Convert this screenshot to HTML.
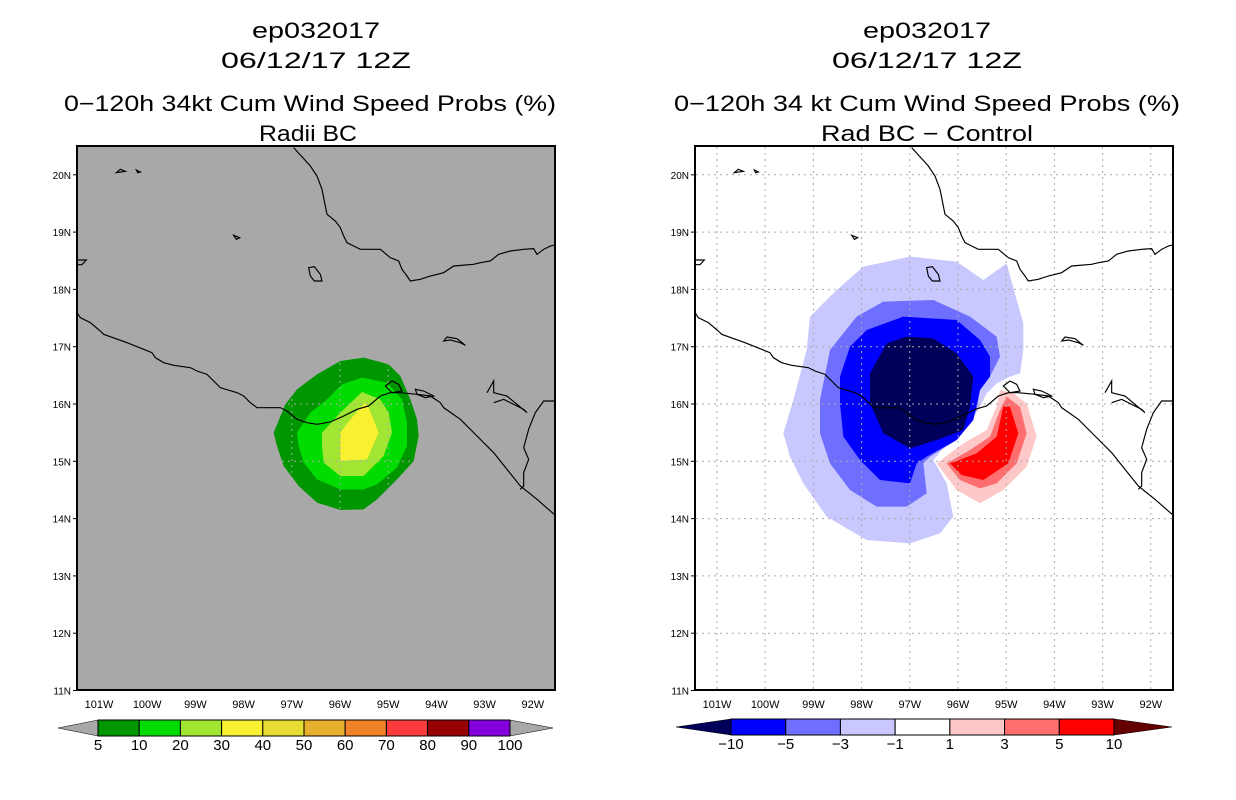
<!DOCTYPE html>
<html><head><meta charset="utf-8"><style>
html,body{margin:0;padding:0;background:#fff;}
svg{display:block;}
text{font-family:"Liberation Sans",sans-serif;fill:#000;}
</style></head><body>
<svg id="fig" width="1236" height="800" viewBox="0 0 1236 800">
<defs>
  <g id="geo">
    <polyline fill="none" stroke="#000" stroke-width="3.5" points="0,500 10,515 40,530 70,555 80,565 150,590 200,610 225,620 235,635 260,650 290,658 340,665 360,675 390,685 410,705 430,725 480,740 500,750 520,770 540,785 610,785 630,795 660,820 690,830 720,835 760,828 800,810 840,790 875,780 910,750 940,740 970,740 1020,745 1060,750 1090,770 1100,785 1150,820 1200,870 1250,920 1290,970 1330,1020 1380,1060 1437,1110"/>
    <polyline fill="none" stroke="#000" stroke-width="3.5" points="650,5 700,60 720,90 735,130 745,180 750,205 775,225 790,245 800,270 810,290 830,300 850,310 910,310 940,335 965,345 975,370 990,390 1000,405 1030,400 1060,390 1100,380 1130,360 1190,355 1210,350 1240,345 1265,325 1300,315 1340,310 1370,308 1380,325 1400,310 1420,300 1437,296"/>
    <polyline fill="none" stroke="#000" stroke-width="3.5" points="1437,765 1400,765 1375,800 1355,850 1340,905 1355,940 1340,980 1340,1020 1330,1030"/>
    <polyline fill="none" stroke="#000" stroke-width="3.5" points="1230,740 1250,705 1250,740 1290,750 1350,800 1340,790 1280,760 1250,770"/>
    <polygon fill="none" stroke="#000" stroke-width="3.5" points="695,365 712,362 730,385 735,405 712,405 700,390"/>
    <polygon fill="none" stroke="#000" stroke-width="3.5" points="1100,585 1110,573 1140,578 1165,598 1150,590 1120,582"/>
    <polygon fill="none" stroke="#000" stroke-width="3.5" points="118,80 130,70 145,76"/>
    <polygon fill="none" stroke="#000" stroke-width="3.5" points="178,72 190,78 182,80"/>
    <polygon fill="none" stroke="#000" stroke-width="3.5" points="470,268 488,275 478,280"/>
    <polyline fill="none" stroke="#000" stroke-width="3.5" points="0,342 28,342 15,356 0,356"/>
    <polygon fill="none" stroke="#000" stroke-width="3.5" points="925,720 945,705 965,715 975,735 945,740"/>
    <polygon fill="none" stroke="#000" stroke-width="3.5" points="1015,730 1040,735 1070,750 1045,755 1020,745"/>
  </g>
</defs>

<g>
  <text x="316" y="38" font-size="22" text-anchor="middle" textLength="128" lengthAdjust="spacingAndGlyphs">ep032017</text>
  <text x="316" y="68" font-size="22" text-anchor="middle" textLength="190" lengthAdjust="spacingAndGlyphs">06/12/17 12Z</text>
  <text x="310" y="111" font-size="22" text-anchor="middle" textLength="492" lengthAdjust="spacingAndGlyphs">0−120h 34kt Cum Wind Speed Probs (%)</text>
  <text x="308" y="141" font-size="22" text-anchor="middle" textLength="98" lengthAdjust="spacingAndGlyphs">Radii BC</text>
</g>
<g>
  <text x="927" y="38" font-size="22" text-anchor="middle" textLength="128" lengthAdjust="spacingAndGlyphs">ep032017</text>
  <text x="927" y="68" font-size="22" text-anchor="middle" textLength="190" lengthAdjust="spacingAndGlyphs">06/12/17 12Z</text>
  <text x="927" y="111" font-size="22" text-anchor="middle" textLength="506" lengthAdjust="spacingAndGlyphs">0−120h 34 kt Cum Wind Speed Probs (%)</text>
  <text x="927" y="141" font-size="22" text-anchor="middle" textLength="212" lengthAdjust="spacingAndGlyphs">Rad BC − Control</text>
</g>

<g>
  <rect x="77" y="146" width="478" height="544" fill="#a8a8a8"/>
  <g transform="translate(77,146) scale(0.33333)">
    <polygon fill="#009600" points="590,860 625,775 660,730 720,685 790,645 860,635 935,655 970,690 1000,760 1020,820 1025,870 1010,945 960,1000 900,1060 860,1090 790,1092 720,1070 665,1020 620,960 600,900"/>
    <polygon fill="#00dc00" points="660,860 700,800 750,760 795,715 855,695 930,710 975,760 990,830 990,900 960,965 900,1015 860,1030 790,1030 720,1000 680,950 665,900"/>
    <polygon fill="#a0e632" points="735,860 790,800 855,738 910,760 935,800 945,860 920,930 860,990 790,990 740,950 735,900"/>
    <polygon fill="#faf032" points="790,860 820,820 865,770 875,785 905,860 870,940 790,945"/>
  </g>
  <g id="leftgrid"></g>
  <g transform="translate(77,146) scale(0.33333)"><use href="#geo"/></g>
  <rect x="77" y="146" width="478" height="544" fill="none" stroke="#000" stroke-width="2"/>
  <g id="leftaxes"></g>
</g>

<g>
  <rect x="695" y="146" width="478" height="544" fill="#fff"/>
  <g transform="translate(770,250) scale(0.33333)">
    <polygon fill="#c8c8ff" points="40,550 70,450 110,300 120,200 200,120 280,50 420,20 560,35 640,90 710,40 740,150 760,220 760,300 750,370 720,380 680,400 650,430 630,470 600,520 550,560 490,630 530,700 550,800 510,850 420,880 290,870 170,800 100,700 60,620"/>
    <polygon fill="#6e6eff" points="150,450 180,300 260,200 340,155 490,150 600,200 680,260 690,320 660,380 630,420 620,480 600,520 560,570 480,620 460,640 470,730 410,770 320,770 240,720 180,640 150,550"/>
    <polygon fill="#0000ff" points="210,380 240,290 290,240 400,200 560,210 630,270 660,320 660,380 630,420 610,510 560,570 470,620 440,640 420,700 330,690 270,630 220,560 210,460"/>
    <polygon fill="#00005a" points="300,370 350,280 410,260 490,265 560,310 610,380 600,470 580,540 500,570 420,595 340,550 300,460"/>
    <polygon fill="#ffc8c8" points="500,640 580,580 650,540 680,470 690,420 730,430 770,460 800,560 770,650 700,720 630,760 560,720"/>
    <polygon fill="#ff6e6e" points="530,640 600,600 660,560 690,480 710,440 750,470 770,550 740,640 680,700 630,715 570,690"/>
    <polygon fill="#ff0000" points="540,640 620,610 680,560 700,470 720,470 745,550 715,640 640,690 575,675"/>
  </g>
  <g id="rightgrid"></g>
  <g transform="translate(695,146) scale(0.33333)"><use href="#geo"/></g>
  <rect x="695" y="146" width="478" height="544" fill="none" stroke="#000" stroke-width="2"/>
  <g id="rightaxes"></g>
</g>

<g id="leftbar"></g>
<g id="rightbar"></g>

<script>
const lonTicks = [-101,-100,-99,-98,-97,-96,-95,-94,-93,-92];
const lonLabels = ["101W","100W","99W","98W","97W","96W","95W","94W","93W","92W"];
const latTicks = [11,12,13,14,15,16,17,18,19,20];
const latLabels = ["11N","12N","13N","14N","15N","16N","17N","18N","19N","20N"];
const probLevels = ["5","10","20","30","40","50","60","70","80","90","100"];
const probColors = ["#009600","#00dc00","#a0e632","#faf032","#e6dc32","#e6af2d","#f08228","#fa3c3c","#960000","#8200dc"];
const diffLevels = ["−10","−5","−3","−1","1","3","5","10"];
const diffColors = ["#0000ff","#6e6eff","#c8c8ff","#ffffff","#ffc8c8","#ff6e6e","#ff0000"];
const NS="http://www.w3.org/2000/svg";
function mk(tag, attrs, parent){const e=document.createElementNS(NS,tag);for(const k in attrs)e.setAttribute(k,attrs[k]);parent.appendChild(e);return e;}
function panel(x0, gridId, axId, showGrid){
  const xs = lon => x0 + 263 + (lon + 96) * 48.2;
  const ys = lat => 404 - (lat - 16) * 57.3;
  const g=document.getElementById(gridId), a=document.getElementById(axId);
  lonTicks.forEach((lon,i)=>{
    const x=xs(lon);
    if(showGrid){const l=mk('line',{x1:x,x2:x,y1:147,y2:689,stroke:'#aaaaaa','stroke-width':1,'stroke-dasharray':'2,4'},g);
    
    }
    const t=mk('text',{x:x,y:708,'font-size':11,'text-anchor':'middle'},a);t.textContent=lonLabels[i];
    
    
  });
  latTicks.forEach((lat,i)=>{
    const y=ys(lat);
    if(showGrid && lat>11){const l=mk('line',{x1:x0+1,x2:x0+477,y1:y,y2:y,stroke:'#aaaaaa','stroke-width':1,'stroke-dasharray':'2,4'},g);
    
    }
    mk('line',{x1:x0-4,x2:x0,y1:y,y2:y,stroke:'#000'},a);
    const t=mk('text',{x:x0-6,y:y+4,'font-size':10,'text-anchor':'end'},a);t.textContent=latLabels[i];
    
    
  });
}
panel(77,'leftgrid','leftaxes',true);
panel(695,'rightgrid','rightaxes',true);

function colorbar(id, x0, x1, tipL, tipR, y0, y1, colors, labels, endL, endR){
  const g=document.getElementById(id), w=(x1-x0)/colors.length, ym=(y0+y1)/2;
  const pl=mk('polygon',{points:`${tipL},${ym} ${x0},${y0} ${x0},${y1}`,fill:endL,stroke:'#000','stroke-width':0.5},g);
  
  
  const pr=mk('polygon',{points:`${tipR},${ym} ${x1},${y0} ${x1},${y1}`,fill:endR,stroke:'#000','stroke-width':0.5},g);
  
  
  colors.forEach((c,i)=>{
    const r=mk('rect',{x:x0+i*w,y:y0,width:w,height:y1-y0,fill:c,stroke:'#000','stroke-width':1},g);
    
    
  });
  labels.forEach((s,i)=>{
    const t=mk('text',{x:x0+i*w,y:y1+14,'font-size':15,'text-anchor':'middle'},g);t.textContent=s;
    
    
  });
}
colorbar('leftbar',98,510,58,553,720,736,probColors,probLevels,'#a8a8a8','#a8a8a8');
colorbar('rightbar',731,1114,676,1172,719,735,diffColors,diffLevels,'#00005a','#640000');
</script>
</svg>
</body></html>
